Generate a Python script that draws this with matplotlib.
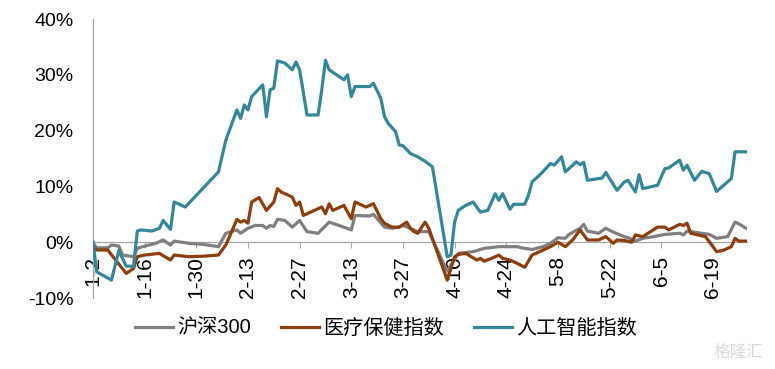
import pandas as pd
import matplotlib
matplotlib.use("Agg")
import matplotlib.pyplot as plt

plt.rcParams['font.family'] = ['Liberation Sans', 'Noto Sans CJK SC', 'DejaVu Sans']

# 沪深300 (%)
hs300_dates = ['1-2', '1-3', '1-6', '1-7', '1-9', '1-10', '1-13', '1-14', '1-16', '1-19',
               '1-21', '1-23', '1-24', '1-28', '2-1', '2-4', '2-5', '2-7', '2-10', '2-11',
               '2-13', '2-15', '2-17', '2-18', '2-19', '2-20', '2-21', '2-23', '2-25', '2-27',
               '3-1', '3-4', '3-7', '3-11', '3-13', '3-14', '3-18', '3-19', '3-22', '3-24',
               '3-26', '3-27', '3-30', '3-31', '4-3', '4-8', '4-11', '4-15', '4-18', '4-22',
               '4-27', '4-28', '5-1', '5-4', '5-6', '5-8', '5-10', '5-11', '5-14', '5-15',
               '5-16', '5-19', '5-21', '5-23', '5-26', '5-27', '5-29', '5-31', '6-3', '6-6',
               '6-10', '6-11', '6-12', '6-18', '6-20', '6-23', '6-25', '6-26', '6-28']
hs300 = [-0.2, -1.0, -1.0, -0.5, -0.7, -2.3, -2.6, -1.1, -0.7, -0.2,
         0.4, -0.5, 0.2, -0.2, -0.4, -0.7, -0.8, 1.6, 2.2, 1.6,
         2.5, 3.0, 3.0, 2.5, 3.0, 2.8, 4.1, 3.9, 2.7, 3.9,
         1.9, 1.6, 3.6, 2.7, 2.2, 4.8, 4.7, 5.0, 2.7, 2.5,
         2.7, 3.0, 2.2, 1.9, 1.9, -5.2, -2.0, -1.7, -1.1, -0.8,
         -0.8, -1.0, -1.3, -0.8, -0.2, 0.8, 0.7, 1.4, 2.5, 3.2,
         2.0, 1.6, 2.5, 1.8, 1.0, 0.8, 0.2, 0.7, 1.0, 1.4,
         1.6, 1.3, 2.0, 1.4, 0.7, 1.0, 3.6, 3.3, 2.5]

# 医疗保健指数 (%)
health_dates = ['1-2', '1-3', '1-6', '1-11', '1-13', '1-14', '1-16', '1-20', '1-23', '1-24',
                '1-28', '2-1', '2-5', '2-7', '2-8', '2-10', '2-11', '2-12', '2-13', '2-14',
                '2-16', '2-18', '2-20', '2-21', '2-22', '2-25', '2-26', '2-27', '2-28', '3-2',
                '3-5', '3-6', '3-7', '3-8', '3-11', '3-13', '3-14', '3-17', '3-19', '3-21',
                '3-22', '3-24', '3-26', '3-28', '3-29', '3-30', '3-31', '4-2', '4-3', '4-8',
                '4-10', '4-11', '4-13', '4-16', '4-17', '4-18', '4-20', '4-22', '4-23', '4-25',
                '4-27', '4-29', '5-1', '5-3', '5-6', '5-8', '5-10', '5-12', '5-14', '5-16',
                '5-19', '5-21', '5-23', '5-24', '5-26', '5-28', '5-29', '5-31', '6-4', '6-6',
                '6-7', '6-10', '6-11', '6-12', '6-13', '6-17', '6-20', '6-22', '6-24', '6-25',
                '6-26', '6-28']
health = [-0.8, -1.4, -1.4, -5.6, -4.7, -2.6, -2.3, -2.0, -3.2, -2.3,
          -2.6, -2.5, -2.3, -0.5, 1.0, 4.1, 3.6, 3.9, 3.4, 7.2,
          8.0, 5.7, 7.2, 9.6, 9.0, 8.1, 6.6, 7.2, 4.8, 5.4,
          6.3, 5.1, 6.9, 5.7, 6.6, 4.2, 7.2, 6.3, 6.9, 4.2,
          3.4, 2.7, 2.7, 3.6, 2.5, 1.9, 1.6, 3.6, 2.5, -6.8,
          -2.6, -2.2, -2.0, -3.2, -2.9, -3.4, -2.9, -2.3, -2.9, -3.2,
          -3.8, -4.5, -2.3, -1.7, -0.8, 0.0, -0.8, 0.4, 2.2, 0.4,
          0.4, 1.0, -0.2, 0.4, 0.3, 0.0, 1.3, 1.0, 2.7, 2.7,
          2.2, 3.2, 3.0, 3.4, 1.6, 1.0, -1.7, -1.4, -0.8, 0.7,
          0.2, 0.2]

# 人工智能指数 (%)
ai_dates = ['1-2', '1-3', '1-7', '1-9', '1-11', '1-13', '1-14', '1-15', '1-18', '1-20',
            '1-21', '1-23', '1-24', '1-27', '2-5', '2-7', '2-10', '2-11', '2-12', '2-13',
            '2-14', '2-17', '2-18', '2-19', '2-20', '2-21', '2-23', '2-25', '2-26', '2-27',
            '3-1', '3-4', '3-5', '3-6', '3-7', '3-11', '3-12', '3-13', '3-14', '3-18',
            '3-19', '3-21', '3-22', '3-23', '3-25', '3-26', '3-27', '3-29', '3-30', '3-31',
            '4-2', '4-4', '4-8', '4-9', '4-10', '4-11', '4-13', '4-15', '4-17', '4-19',
            '4-21', '4-22', '4-23', '4-25', '4-26', '4-29', '4-30', '5-1', '5-3', '5-6',
            '5-7', '5-9', '5-10', '5-13', '5-14', '5-15', '5-16', '5-20', '5-21', '5-22',
            '5-24', '5-26', '5-27', '5-29', '5-30', '5-31', '6-4', '6-6', '6-7', '6-10',
            '6-11', '6-12', '6-14', '6-16', '6-18', '6-20', '6-24', '6-25', '6-28']
ai = [0.0, -5.3, -6.8, -1.5, -4.3, -4.3, 2.0, 2.2, 2.0, 2.5,
      3.9, 2.3, 7.2, 6.3, 12.6, 18.3, 23.7, 22.2, 24.6, 23.7,
      26.1, 28.2, 22.5, 27.3, 27.6, 32.5, 32.1, 30.9, 32.3, 30.9,
      22.8, 22.8, 27.3, 32.6, 30.9, 29.1, 30.0, 26.1, 27.9, 27.9,
      28.5, 25.8, 22.5, 21.3, 19.8, 17.4, 17.3, 15.9, 15.6, 15.3,
      14.5, 13.5, -2.6, -2.3, 3.6, 5.7, 6.6, 7.2, 5.4, 5.7,
      8.7, 7.5, 8.7, 5.9, 6.8, 6.8, 8.4, 10.8, 12.0, 14.1,
      13.8, 15.3, 12.6, 14.4, 13.9, 14.3, 11.1, 11.5, 12.5, 11.4,
      9.3, 10.8, 11.1, 9.0, 12.1, 9.6, 10.2, 13.2, 13.3, 14.7,
      12.9, 13.8, 11.1, 12.7, 12.3, 9.1, 11.4, 16.2, 16.2]

tick_labels = ['1-2', '1-16', '1-30', '2-13', '2-27', '3-13', '3-27',
               '4-10', '4-24', '5-8', '5-22', '6-5', '6-19']
y_ticks = [-10, 0, 10, 20, 30, 40]


def to_dates(lst):
    return pd.to_datetime(['2023-' + s for s in lst])


fig = plt.figure(figsize=(7.75, 3.69), dpi=100)
ax = fig.add_axes([0.12, 0.1924, 0.8439, 0.7561])

ax.plot(to_dates(hs300_dates), hs300, color='#7F7F7F', lw=2.3, label='沪深300', zorder=3)
ax.plot(to_dates(health_dates), health, color='#8E3E0C', lw=2.3, label='医疗保健指数', zorder=4)
ax.plot(to_dates(ai_dates), ai, color='#34879B', lw=2.3, label='人工智能指数', zorder=5)

ax.set_ylim(-10, 40)
ax.set_yticks(y_ticks)
ax.set_yticklabels([f'{v}%' for v in y_ticks])
ax.tick_params(axis='y', length=0, pad=14, labelsize=14)

ax.set_xlim(pd.Timestamp('2023-01-02'), pd.Timestamp('2023-06-28 06:00'))
ax.set_xticks(to_dates(tick_labels))
ax.set_xticklabels(tick_labels)
ax.tick_params(axis='x', length=4, width=0.8, color='#A6A6A6', pad=6,
               labelrotation=90, labelsize=15)

for s in ['top', 'right']:
    ax.spines[s].set_visible(False)
ax.spines['bottom'].set_position(('data', 0))
ax.spines['bottom'].set_color('#A6A6A6')
ax.spines['left'].set_color('#A6A6A6')
ax.spines['bottom'].set_linewidth(0.9)
ax.spines['left'].set_linewidth(0.9)

fig.legend(loc='center', bbox_to_anchor=(386 / 775, 1 - 328 / 369), ncol=3,
           frameon=False, fontsize=14.5, handlelength=1.9, handletextpad=0.2,
           columnspacing=1.5)

# watermark
fig.text(0.985, 0.045, '格隆汇', fontsize=12, color='#D9D9D9', ha='right', va='center')

fig.savefig('out.png', dpi=100)
